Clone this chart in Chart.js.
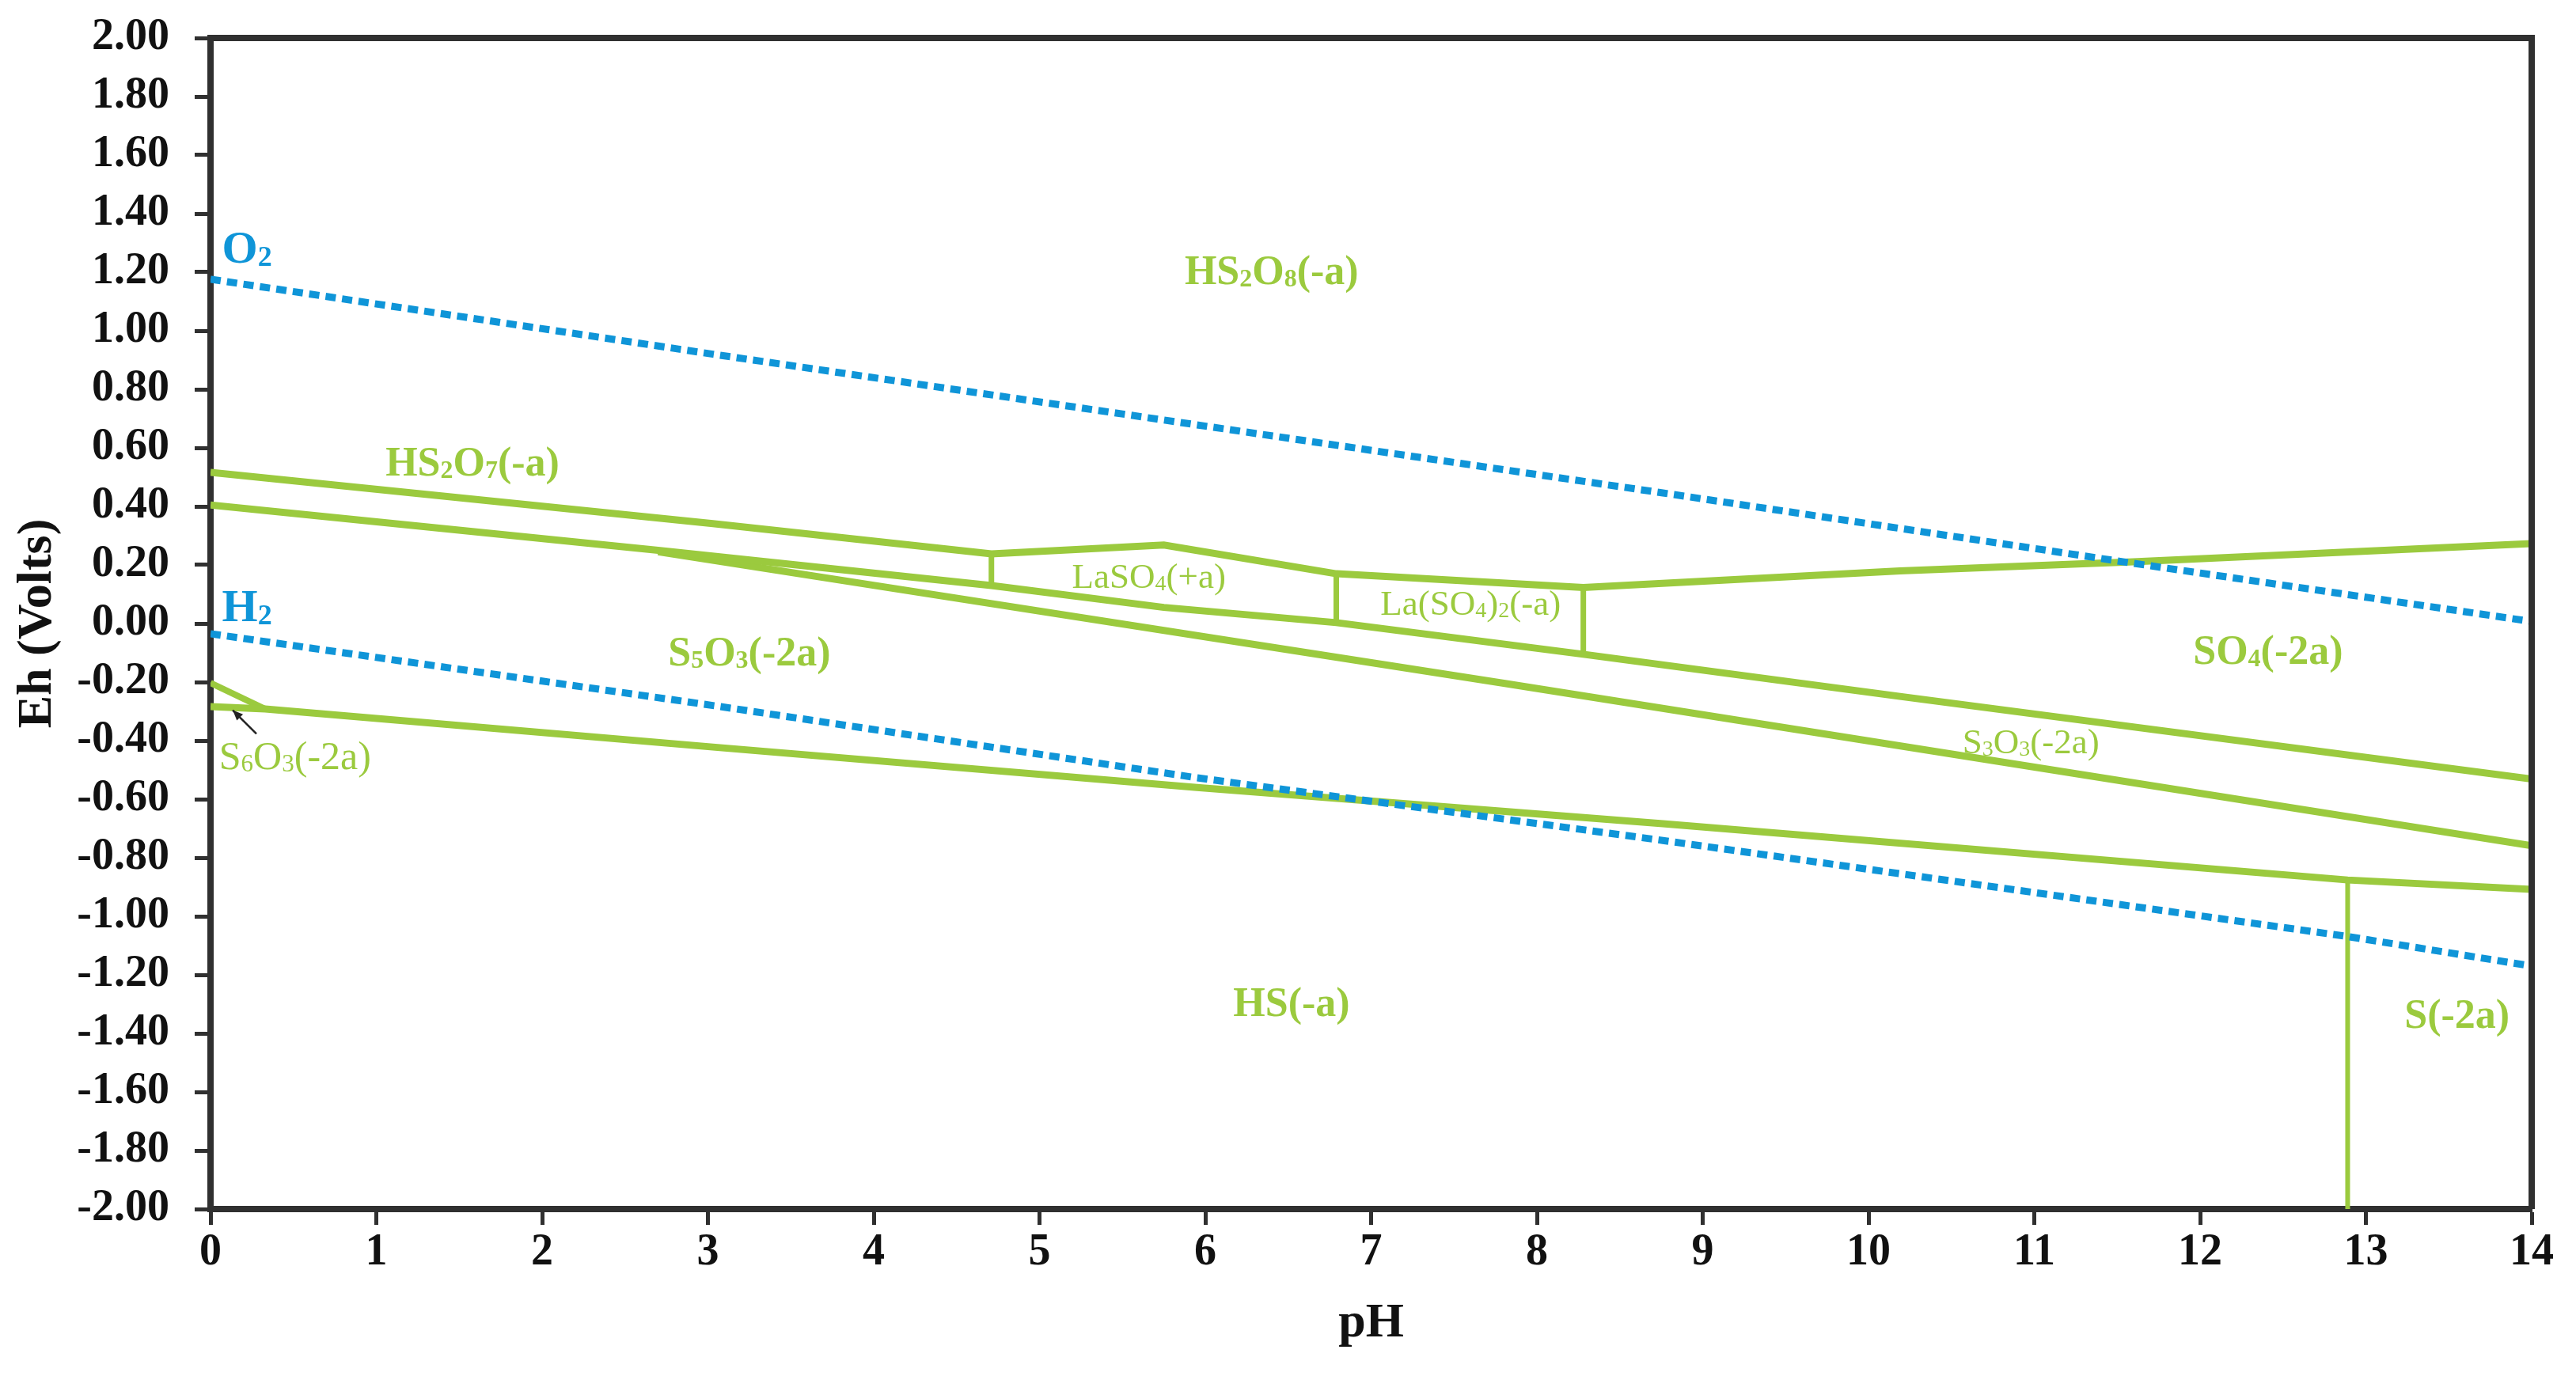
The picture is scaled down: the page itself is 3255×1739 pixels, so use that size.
<!DOCTYPE html>
<html lang="en">
<head>
<meta charset="UTF-8">
<title>Eh-pH diagram, La-S-O-H system</title>
<script src="https://cdn.jsdelivr.net/npm/chart.js"></script>
<style>
  html, body { margin: 0; padding: 0; background: #fff; }
  #wrap { width: 3255px; height: 1739px; position: relative; }
</style>
</head>
<body>
<div id="wrap"><canvas id="ehph"></canvas></div>
<script>
// tick values
const phTicks = [0, 1, 2, 3, 4, 5, 6, 7, 8, 9, 10, 11, 12, 13, 14];
const ehTicks = [-2.0, -1.8, -1.6, -1.4, -1.2, -1.0, -0.8, -0.6, -0.4, -0.2, 0.0,
                 0.2, 0.4, 0.6, 0.8, 1.0, 1.2, 1.4, 1.6, 1.8, 2.0];

// water stability limits [pH, Eh]
const o2Limit = [[0, 1.176], [3.03, 0.92], [8.76, 0.446], [11.57, 0.208], [14, 0.007]];
const h2Limit = [[0, -0.035], [3.03, -0.28], [5.95, -0.527], [8.76, -0.741], [12.89, -1.069], [14, -1.17]];

// field boundaries [pH, Eh]
const upperBoundary = [[0, 0.516], [3.03, 0.341], [4.71, 0.238], [5.75, 0.268], [6.79, 0.170],
                       [8.28, 0.123], [10.19, 0.18], [11.57, 0.21], [14, 0.273]];
const middleBoundary = [[0, 0.405], [2.7, 0.25], [4.71, 0.13], [5.75, 0.055], [6.79, 0.003],
                        [8.28, -0.105], [10.19, -0.249], [14, -0.531]];
const s3o3Boundary = [[2.7, 0.245], [7.80, -0.204], [14, -0.759]];
const lowerBoundary = [[0, -0.284], [0.33, -0.292], [3.03, -0.422], [5.95, -0.56], [8.76, -0.684],
                       [12.89, -0.876], [14, -0.908]];
const s6o3Boundary = [[0, -0.203], [0.33, -0.292]];
const laso4Left = [[4.71, 0.238], [4.71, 0.13]];
const laso42Left = [[6.79, 0.170], [6.79, 0.003]];
const laso42Right = [[8.28, 0.123], [8.28, -0.105]];
const sBoundary = [[12.89, -0.876], [12.89, -2.0]];

// region labels: "_" marks a subscript character
const labelText = ['O_2', 'H_2', 'HS_2O_8(-a)', 'HS_2O_7(-a)', 'LaSO_4(+a)', 'La(SO_4)_2(-a)',
                   'S_5O_3(-2a)', 'SO_4(-2a)', 'S_3O_3(-2a)', 'S_6O_3(-2a)', 'HS(-a)', 'S(-2a)'];
const labelPH = [0.22, 0.22, 6.40, 1.58, 5.66, 7.60, 3.25, 12.41, 10.98, 0.51, 6.52, 13.55];
const labelEh = [1.284, 0.059, 1.205, 0.551, 0.162, 0.070, -0.097, -0.092, -0.403, -0.454, -1.295, -1.335];
const labelKind = ['water', 'water', 'bold', 'bold', 'plain', 'plain',
                   'bold', 'bold', 'plain', 'plainLarge', 'bold', 'bold'];

// arrow pointing to the S6O3 field
const s6o3Arrow = [[0.277, -0.377], [0.134, -0.296]];

const GREEN = '#9BCA3E';
const BLUE = '#0F95D8';
const AXIS = '#303030';
const SERIF = '"Liberation Serif", "Times New Roman", serif';

const toXY = pts => pts.map(p => ({ x: p[0], y: p[1] }));

function dashed(pts) {
  return { data: toXY(pts), borderColor: BLUE, borderWidth: 9, borderDash: [13, 8],
           borderCapStyle: 'butt', showLine: true, pointRadius: 0, fill: false, tension: 0 };
}
function solid(pts, w) {
  return { data: toXY(pts), borderColor: GREEN, borderWidth: w, showLine: true,
           pointRadius: 0, fill: false, tension: 0, borderJoinStyle: 'miter' };
}

const styles = {
  water: { size: 58, weight: 'bold', color: BLUE },
  bold: { size: 52, weight: 'bold', color: GREEN },
  plain: { size: 45, weight: 'normal', color: GREEN },
  plainLarge: { size: 50, weight: 'normal', color: GREEN }
};

function runsOf(text) {
  const runs = [];
  for (let i = 0; i < text.length; i++) {
    if (text[i] === '_') { runs.push({ t: text[i + 1], sub: true }); i++; }
    else runs.push({ t: text[i], sub: false });
  }
  return runs;
}

function drawRich(ctx, text, cx, cy, st) {
  const runs = runsOf(text);
  const subSize = Math.round(st.size * 0.62);
  let total = 0;
  runs.forEach(r => {
    ctx.font = st.weight + ' ' + (r.sub ? subSize : st.size) + 'px ' + SERIF;
    r.w = ctx.measureText(r.t).width;
    total += r.w;
  });
  let x = cx - total / 2;
  const base = cy + st.size * 0.33;
  ctx.fillStyle = st.color;
  ctx.textAlign = 'left';
  ctx.textBaseline = 'alphabetic';
  runs.forEach(r => {
    ctx.font = st.weight + ' ' + (r.sub ? subSize : st.size) + 'px ' + SERIF;
    ctx.fillText(r.t, x, r.sub ? base + st.size * 0.06 : base);
    x += r.w;
  });
}

const annotations = {
  id: 'annotations',
  afterDatasetsDraw(chart) {
    const { ctx, chartArea: a, scales: { x, y } } = chart;
    ctx.save();
    // frame top / right
    ctx.strokeStyle = AXIS;
    ctx.lineWidth = 8;
    ctx.beginPath();
    ctx.moveTo(a.left, a.top);
    ctx.lineTo(a.right, a.top);
    ctx.lineTo(a.right, a.bottom);
    ctx.stroke();

    labelText.forEach((t, i) => {
      drawRich(ctx, t, x.getPixelForValue(labelPH[i]), y.getPixelForValue(labelEh[i]), styles[labelKind[i]]);
    });

    // small arrow
    const x0 = x.getPixelForValue(s6o3Arrow[0][0]), y0 = y.getPixelForValue(s6o3Arrow[0][1]);
    const x1 = x.getPixelForValue(s6o3Arrow[1][0]), y1 = y.getPixelForValue(s6o3Arrow[1][1]);
    const ang = Math.atan2(y1 - y0, x1 - x0);
    ctx.strokeStyle = '#222';
    ctx.fillStyle = '#222';
    ctx.lineWidth = 2.5;
    ctx.beginPath();
    ctx.moveTo(x0, y0);
    ctx.lineTo(x1, y1);
    ctx.stroke();
    ctx.beginPath();
    ctx.moveTo(x1, y1);
    ctx.lineTo(x1 - 14 * Math.cos(ang - 0.4), y1 - 14 * Math.sin(ang - 0.4));
    ctx.lineTo(x1 - 14 * Math.cos(ang + 0.4), y1 - 14 * Math.sin(ang + 0.4));
    ctx.closePath();
    ctx.fill();
    ctx.restore();
  }
};

new Chart(document.getElementById('ehph').getContext('2d'), {
  type: 'scatter',
  data: {
    datasets: [
      dashed(o2Limit),
      dashed(h2Limit),
      solid(upperBoundary, 9),
      solid(middleBoundary, 9),
      solid(s3o3Boundary, 9),
      solid(lowerBoundary, 9),
      solid(s6o3Boundary, 8),
      solid(laso4Left, 7),
      solid(laso42Left, 7),
      solid(laso42Right, 7),
      solid(sBoundary, 6)
    ]
  },
  options: {
    responsive: true,
    maintainAspectRatio: false,
    animation: false,
    devicePixelRatio: 1,
    layout: { padding: { top: 48, right: 56, bottom: 0, left: 0 } },
    plugins: { legend: { display: false }, tooltip: { enabled: false } },
    events: [],
    scales: {
      x: {
        type: 'linear',
        min: 0,
        max: 14,
        afterBuildTicks: s => { s.ticks = phTicks.map(v => ({ value: v })); },
        afterFit: s => { s.height = 211; s.paddingLeft = 0; s.paddingRight = 0; },
        border: { display: true, color: AXIS, width: 8 },
        grid: { display: true, drawOnChartArea: false, drawTicks: true, tickLength: 20,
                tickWidth: 5, tickColor: AXIS, color: AXIS },
        ticks: { color: '#111', padding: 2, maxRotation: 0,
                 font: { family: SERIF, size: 56, weight: 'bold' } },
        title: { display: true, text: 'pH', color: '#111', padding: { bottom: 29 },
                 font: { family: SERIF, size: 62, weight: 'bold' } }
      },
      y: {
        type: 'linear',
        min: -2,
        max: 2,
        afterBuildTicks: s => { s.ticks = ehTicks.map(v => ({ value: v })); },
        afterFit: s => { s.width = 266; s.paddingTop = 0; s.paddingBottom = 0; },
        border: { display: true, color: AXIS, width: 8 },
        grid: { display: true, drawOnChartArea: false, drawTicks: true, tickLength: 20,
                tickWidth: 5, tickColor: AXIS, color: AXIS },
        ticks: { color: '#111', padding: 32,
                 font: { family: SERIF, size: 56, weight: 'bold' },
                 callback: v => (Math.abs(v) < 1e-9 ? 0 : v).toFixed(2) },
        title: { display: true, text: 'Eh (Volts)', color: '#111', padding: { top: 11 },
                 font: { family: SERIF, size: 62, weight: 'bold' } }
      }
    }
  },
  plugins: [annotations]
});
</script>
</body>
</html>
